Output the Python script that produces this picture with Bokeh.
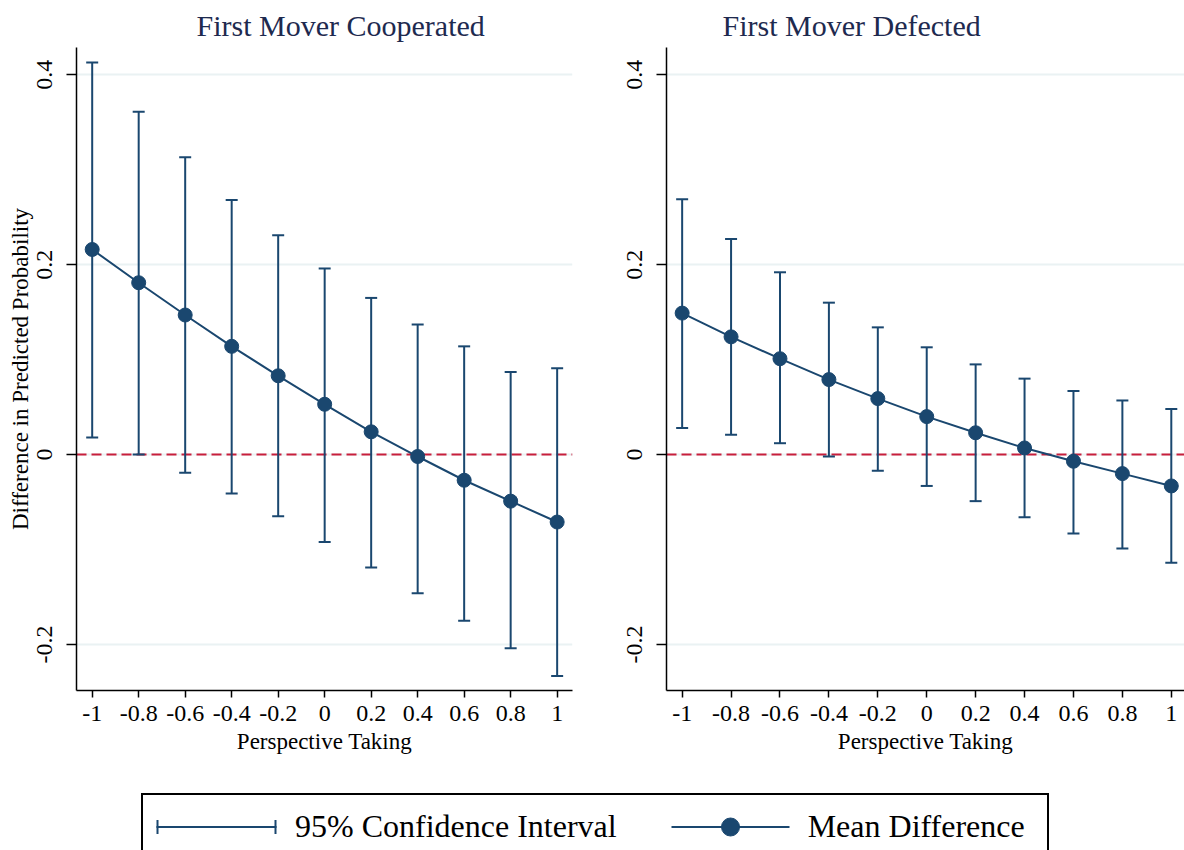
from bokeh.plotting import figure
from bokeh.models import Range1d, FixedTicker, Span, Legend, LegendItem
from bokeh.layouts import column, row
from bokeh.core.properties import value
from bokeh.embed import file_html
from bokeh.resources import INLINE

# ---------------- data ----------------
perspective = [-1.0, -0.8, -0.6, -0.4, -0.2, 0.0, 0.2, 0.4, 0.6, 0.8, 1.0]

coop_mean = [0.216, 0.181, 0.147, 0.114, 0.083, 0.053, 0.024, -0.002, -0.027, -0.049, -0.071]
coop_upper = [0.413, 0.361, 0.313, 0.268, 0.231, 0.196, 0.165, 0.137, 0.114, 0.087, 0.091]
coop_lower = [0.018, 0.000, -0.019, -0.041, -0.065, -0.092, -0.119, -0.146, -0.175, -0.204, -0.233]

defect_mean = [0.149, 0.124, 0.101, 0.079, 0.059, 0.040, 0.023, 0.007, -0.007, -0.020, -0.033]
defect_upper = [0.269, 0.227, 0.192, 0.160, 0.134, 0.113, 0.095, 0.080, 0.067, 0.057, 0.048]
defect_lower = [0.028, 0.021, 0.012, -0.002, -0.017, -0.033, -0.049, -0.066, -0.083, -0.099, -0.114]

x_ticks = [-1.0, -0.8, -0.6, -0.4, -0.2, 0.0, 0.2, 0.4, 0.6, 0.8, 1.0]
x_tick_labels = ["-1", "-0.8", "-0.6", "-0.4", "-0.2", "0", "0.2", "0.4", "0.6", "0.8", "1"]
y_ticks = [-0.2, 0.0, 0.2, 0.4]
y_tick_labels = ["-0.2", "0", "0.2", "0.4"]

titles = ["First Mover Cooperated", "First Mover Defected"]
x_title = "Perspective Taking"
y_title = "Difference in Predicted Probability"
legend_labels = ["95% Confidence Interval", "Mean Difference"]

# ---------------- style ----------------
NAVY = "#1a476f"
RED = "#c81e3c"
GRID = "#eaf2f3"
FONT = "Liberation Serif"
TITLE_COLOR = "#1e2a4f"


def make_panel(title, mean, upper, lower, width, border_left, border_right,
               xr, title_offset, show_ylabel):
    p = figure(width=width, height=780, output_backend="svg", toolbar_location=None,
               x_range=Range1d(*xr), y_range=Range1d(-0.2484, 0.4287),
               min_border_left=border_left, min_border_right=border_right,
               min_border_top=47, min_border_bottom=90,
               background_fill_color="white", border_fill_color="white",
               outline_line_color=None)
    p.title.text = title
    p.title.text_font = FONT
    p.title.text_font_size = "30px"
    p.title.text_font_style = "normal"
    p.title.text_color = TITLE_COLOR
    p.title.align = "left"
    p.title.offset = title_offset
    p.title.standoff = 11

    p.xgrid.visible = False
    p.ygrid.grid_line_color = GRID
    p.ygrid.grid_line_width = 2

    p.xaxis.ticker = FixedTicker(ticks=x_ticks)
    p.xaxis.major_label_overrides = dict(zip(x_ticks, x_tick_labels))
    p.yaxis.ticker = FixedTicker(ticks=y_ticks)
    p.yaxis.major_label_overrides = dict(zip(y_ticks, y_tick_labels))
    p.yaxis.major_label_orientation = "vertical"

    for ax in (p.xaxis, p.yaxis):
        ax.axis_line_color = "black"
        ax.axis_line_width = 1.5
        ax.major_tick_line_color = "black"
        ax.major_tick_line_width = 1.5
        ax.minor_tick_line_color = None
        ax.major_tick_in = 0
        ax.major_label_text_font = FONT
        ax.major_label_text_font_size = "24px"
        ax.major_label_text_color = "black"
        ax.axis_label_text_font = FONT
        ax.axis_label_text_font_size = "23px"
        ax.axis_label_text_font_style = "normal"
        ax.axis_label_text_color = "black"
    p.xaxis.major_tick_out = 7
    p.xaxis.major_label_standoff = 8
    p.xaxis.axis_label_standoff = 5
    p.xaxis.axis_label = x_title
    p.yaxis.major_tick_out = 10
    p.yaxis.major_label_standoff = 14
    p.yaxis.axis_label_standoff = 2
    if show_ylabel:
        p.yaxis.axis_label = y_title

    zero = Span(location=0, dimension="width", line_color=RED, line_width=2,
                line_dash="10 5", level="underlay")
    p.add_layout(zero)

    p.segment(x0=perspective, y0=lower, x1=perspective, y1=upper,
              line_color=NAVY, line_width=2)
    p.scatter(x=perspective + perspective, y=upper + lower, marker="dash",
              size=12, line_color=NAVY, line_width=2)
    p.line(x=perspective, y=mean, line_color=NAVY, line_width=2)
    p.scatter(x=perspective, y=mean, marker="circle", size=14,
              fill_color=NAVY, line_color=NAVY)
    return p


p1 = make_panel(titles[0], coop_mean, coop_upper, coop_lower, 610, 76, 38,
                (-1.0675, 1.066), 120, True)
p2 = make_panel(titles[1], defect_mean, defect_upper, defect_lower, 574, 56, 0,
                (-1.064, 1.054), 56, False)

# ---------------- legend ----------------
pleg = figure(width=1184, height=70, output_backend="svg", toolbar_location=None,
              x_axis_location=None, y_axis_location=None, min_border=0,
              outline_line_color=None, background_fill_color="white",
              border_fill_color="white")
pleg.grid.visible = False

ci_bar = pleg.segment(x0=perspective, y0=coop_lower, x1=perspective, y1=coop_upper,
                      line_color=NAVY, line_width=2, line_dash="0 4 120 6")
ci_caps = pleg.segment(x0=perspective, y0=coop_upper, x1=perspective, y1=coop_upper,
                       line_color=NAVY, line_width=14, line_dash="0 4 2 116 2 6")
mean_line = pleg.line(x=perspective, y=coop_mean, line_color=NAVY, line_width=2,
                      line_dash="0 6 118 6")
mean_dot = pleg.scatter(x=perspective, y=coop_mean, marker="circle", size=14,
                        fill_color=NAVY, line_color=NAVY)
for r in (ci_bar, ci_caps, mean_line, mean_dot):
    r.visible = False

legend = Legend(items=[
    LegendItem(label=value(legend_labels[0]), renderers=[ci_bar, ci_caps]),
    LegendItem(label=value(legend_labels[1]), renderers=[mean_line, mean_dot]),
], orientation="horizontal", location=(141, -10), margin=0, padding=9,
    glyph_width=130, glyph_height=45, label_standoff=13, spacing=48,
    label_width=230, label_text_font=FONT, label_text_font_size="32px",
    label_text_color="black", border_line_color="black", border_line_width=2,
    border_line_alpha=1.0,
    background_fill_color="white", background_fill_alpha=1.0)
pleg.add_layout(legend)

layout = column(row(p1, p2), pleg)
open("out.html", "w").write(file_html(layout, INLINE))
